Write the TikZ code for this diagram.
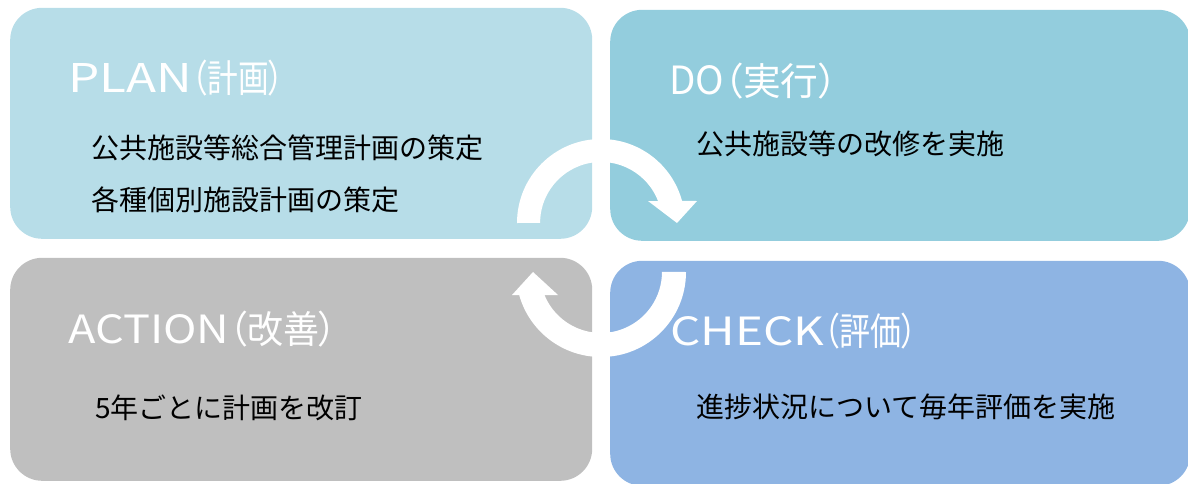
\documentclass[tikz,border=0pt]{standalone}
\usepackage{fontspec}
\newfontfamily\jp{Noto Sans CJK JP}
\newfontfamily\jpt{Noto Sans CJK JP}[RawFeature=+palt]
\definecolor{planc}{HTML}{B7DDE8}
\definecolor{doc}{HTML}{93CDDD}
\definecolor{actc}{HTML}{BFBFBF}
\definecolor{chkc}{HTML}{8EB4E3}
\newcommand\fitto[2]{\resizebox{#1}{\height}{#2}}
\newcommand\ttltext[4]{\resizebox{#2}{29pt}{#1}\fitto{#4}{#3}}
\tikzset{
  quad/.style={draw=none, rounded corners=32pt, inner sep=0pt, anchor=south west},
  ttl/.style={anchor=base west, inner sep=0pt, text=white, font=\jpt\fontsize{38}{44}\selectfont},
  body/.style={anchor=base west, inner sep=0pt, text=black, font=\jp\fontsize{28}{34}\selectfont},
  ringarrow/.style={fill=white, draw=none}
}
\begin{document}
\begin{tikzpicture}[x=1pt,y=1pt]
\useasboundingbox (0,0) rectangle (1188,483);
\clip (0,0) rectangle (1188,483);
% quadrants
\node[quad, fill=planc, minimum width=582pt, minimum height=231pt] (plan) at (10,244) {};
\node[quad, fill=doc,   minimum width=580pt, minimum height=231pt] (do)   at (610,242) {};
\node[quad, fill=actc,  minimum width=582pt, minimum height=223pt] (act)  at (10,2) {};
\node[quad, fill=chkc,  minimum width=580pt, minimum height=225pt] (chk)  at (610,-3) {};
% cycle arrows
\coordinate (ctop) at (601,260);
\coordinate (cbot) at (601,211);
\fill[ringarrow] (517,260) arc[start angle=180, end angle=15.2, radius=84]
  -- (697,282) -- (677,260) -- (648,282) -- (658,282)
  arc[start angle=21.1, end angle=180, radius=61] -- cycle;
\fill[ringarrow] (686,211) arc[start angle=0, end angle=-164.3, radius=85]
  -- (512,188) -- (533,211) -- (558,188) -- (544.5,188)
  arc[start angle=-157.8, end angle=0, radius=61] -- cycle;
% titles
\node[ttl] (tplan) at (68,390) {\ttltext{PLAN}{124pt}{（計画）}{92pt}};
\node[ttl] (tdo)   at (669,388) {\ttltext{DO}{55pt}{（実行）}{113pt}};
\node[ttl] (tact)  at (68,140) {\ttltext{ACTION}{161pt}{（改善）}{108pt}};
\node[ttl] (tchk)  at (670,138) {\ttltext{CHECK}{154pt}{（評価）}{93pt}};
% bodies
\node[body] (bplan1) at (91,325) {公共施設等総合管理計画の策定};
\node[body] (bplan2) at (91,273) {各種個別施設計画の策定};
\node[body] (bdo)    at (696,329) {公共施設等の改修を実施};
\node[body] (bact)   at (95,65) {5年ごとに計画を改訂};
\node[body] (bchk)   at (696,66) {進捗状況について毎年評価を実施};
\end{tikzpicture}
\end{document}
